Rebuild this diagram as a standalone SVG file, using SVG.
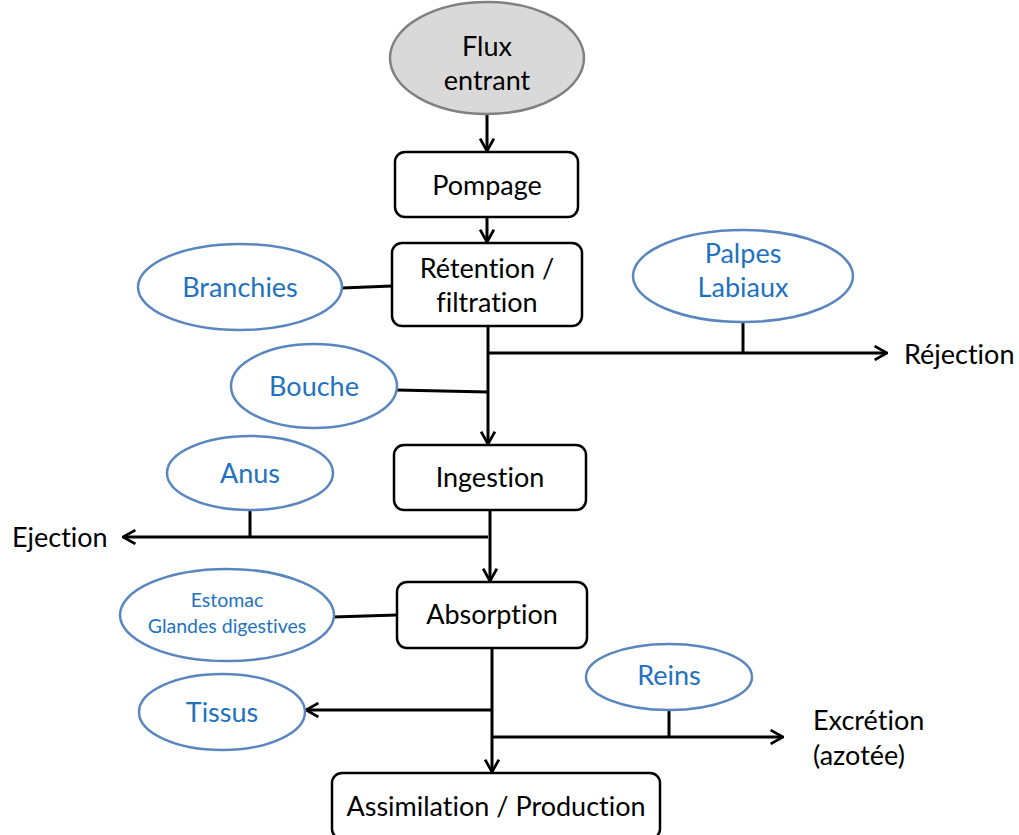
<svg xmlns="http://www.w3.org/2000/svg" width="1019" height="835" viewBox="0 0 1019 835">
<style>
text{font-variant-ligatures:none;font-feature-settings:"liga" 0}
.box{fill:#fff;stroke:#000;stroke-width:2.5}
.ell{fill:#fff;stroke:#5a86c0;stroke-width:2.5}
.grey{fill:#d9d9d9;stroke:#808080;stroke-width:2.5}
.t{font-family:Lato,"Open Sans",sans-serif;font-size:27px;fill:#000;text-anchor:middle}
.b{font-family:Lato,"Open Sans",sans-serif;font-size:27px;fill:#1f72bf;text-anchor:middle}
.s{font-size:19.5px}
.l{text-anchor:start}
.c{stroke:#000;stroke-width:3;fill:none}
.ca{stroke:#000;stroke-width:3;fill:none;marker-end:url(#arr)}
</style>
<defs>
<marker id="arr" viewBox="0 0 12 12" refX="11" refY="6" markerWidth="5.5" markerHeight="5.5" orient="auto" markerUnits="strokeWidth">
<path d="M2,1 L11,6 L2,11" fill="none" stroke="#000" stroke-width="2"/>
</marker>
</defs>
<g id="connectors">
<line class="ca" x1="487" y1="115" x2="487" y2="151"/>
<line class="ca" x1="487" y1="217" x2="487" y2="242"/>
<line class="c" x1="342" y1="288" x2="392" y2="286"/>
<line class="ca" x1="488" y1="326" x2="488" y2="444"/>
<line class="ca" x1="488" y1="353" x2="887" y2="353"/>
<line class="c" x1="743" y1="322" x2="743" y2="353"/>
<line class="c" x1="397" y1="390" x2="488" y2="392"/>
<line class="ca" x1="490" y1="510" x2="490" y2="581"/>
<line class="ca" x1="488" y1="537" x2="123" y2="537"/>
<line class="c" x1="250" y1="510" x2="250" y2="537"/>
<line class="c" x1="333" y1="617" x2="397" y2="615"/>
<line class="ca" x1="492" y1="648" x2="492" y2="772"/>
<line class="ca" x1="492" y1="710" x2="306" y2="710"/>
<line class="ca" x1="492" y1="737" x2="783" y2="737"/>
<line class="c" x1="669" y1="710" x2="669" y2="737"/>
</g>
<g id="flux"><ellipse class="grey" cx="487" cy="58" rx="97" ry="56"/><text class="t" x="487" y="56">Flux</text><text class="t" x="487" y="90">entrant</text></g>
<g id="pompage"><rect class="box" x="395" y="152" width="183" height="65" rx="10"/><text class="t" x="487" y="195">Pompage</text></g>
<g id="retention"><rect class="box" x="392" y="243" width="190" height="83" rx="10"/><text class="t" x="487" y="278">Rétention /</text><text class="t" x="487" y="312">filtration</text></g>
<g id="branchies"><ellipse class="ell" cx="240" cy="287" rx="102" ry="43"/><text class="b" x="240" y="297">Branchies</text></g>
<g id="palpes"><ellipse class="ell" cx="743" cy="276" rx="110" ry="46"/><text class="b" x="743" y="263">Palpes</text><text class="b" x="743" y="297">Labiaux</text></g>
<g id="rejection"><text class="t l" x="904" y="364">Réjection</text></g>
<g id="bouche"><ellipse class="ell" cx="314" cy="386" rx="83" ry="42"/><text class="b" x="314" y="396">Bouche</text></g>
<g id="ingestion"><rect class="box" x="394" y="445" width="192" height="65" rx="10"/><text class="t" x="490" y="487">Ingestion</text></g>
<g id="anus"><ellipse class="ell" cx="250" cy="473" rx="83" ry="37"/><text class="b" x="250" y="483">Anus</text></g>
<g id="ejection"><text class="t l" x="12" y="547">Ejection</text></g>
<g id="absorption"><rect class="box" x="397" y="582" width="190" height="66" rx="10"/><text class="t" x="492" y="624">Absorption</text></g>
<g id="estomac"><ellipse class="ell" cx="227" cy="615" rx="107" ry="46"/><text class="b s" x="227" y="607">Estomac</text><text class="b s" x="227" y="633">Glandes digestives</text></g>
<g id="tissus"><ellipse class="ell" cx="222" cy="712" rx="83" ry="38"/><text class="b" x="222" y="722">Tissus</text></g>
<g id="reins"><ellipse class="ell" cx="669" cy="677" rx="83" ry="33"/><text class="b" x="669" y="685">Reins</text></g>
<g id="excretion"><text class="t l" x="813" y="730">Excrétion</text><text class="t l" x="813" y="765">(azotée)</text></g>
<g id="assimilation"><rect class="box" x="332" y="773" width="328" height="66" rx="10"/><text class="t" x="496" y="816">Assimilation / Production</text></g>
</svg>
